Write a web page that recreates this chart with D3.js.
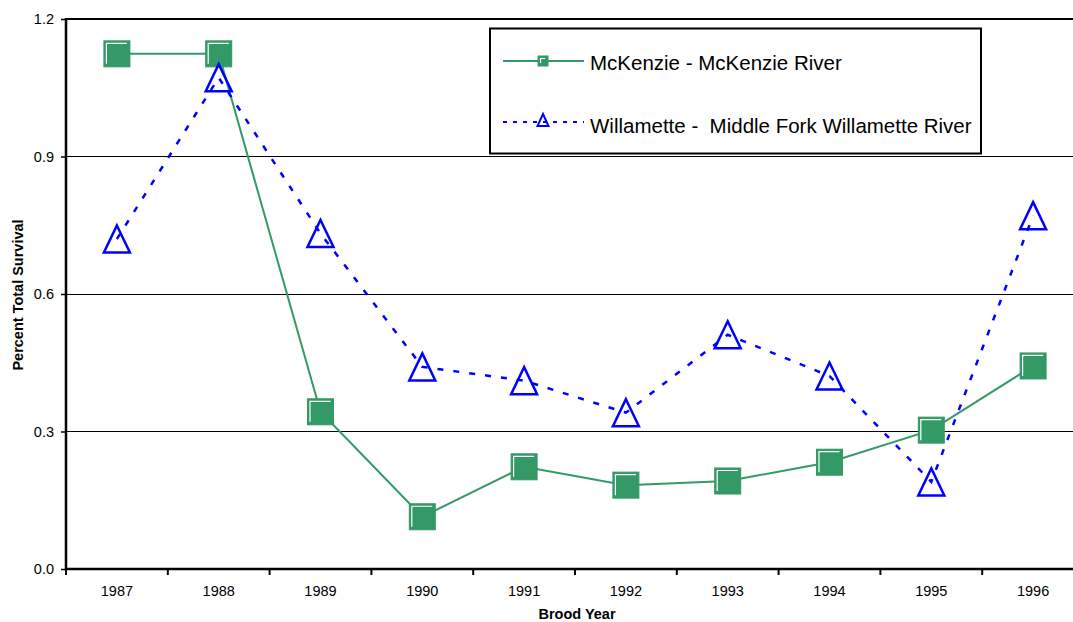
<!DOCTYPE html>
<html><head><meta charset="utf-8">
<script src="https://cdn.jsdelivr.net/npm/d3@7"></script>
<style>
html,body{margin:0;padding:0;background:#fff;}
text{font-family:Arial,"Liberation Sans",sans-serif;fill:#000;}
</style></head>
<body><svg id="c" width="1073" height="622"></svg>
<script>
const years = ["1987","1988","1989","1990","1991","1992","1993","1994","1995","1996"];
const mckenzie = [1.124,1.124,0.343,0.114,0.223,0.183,0.192,0.233,0.303,0.443];
const willamette = [0.720,1.072,0.732,0.441,0.411,0.341,0.511,0.421,0.190,0.771];
const yTicks = [0,0.3,0.6,0.9,1.2];
const seriesNames = ["McKenzie - McKenzie River","Willamette -  Middle Fork Willamette River"];

const svg = d3.select("#c");
const L=66, R=1084, T=19, B=569;
const x = d3.scaleBand().domain(years).range([L,R]);
const cx = d => x(d)+x.bandwidth()/2;
const y = d3.scaleLinear().domain([0,1.2]).range([B,T]);
const green="#339966", blue="#0000ff";

// gridlines
svg.append("g").selectAll("line").data(yTicks.filter(v=>v>0)).join("line")
  .attr("x1",L).attr("x2",1073).attr("y1",d=>y(d)).attr("y2",d=>y(d))
  .attr("stroke","#000").attr("stroke-width",d=>d===1.2?2:1).attr("shape-rendering","crispEdges");

// y axis
const ya = svg.append("g").attr("transform",`translate(${L},0)`)
  .call(d3.axisLeft(y).tickValues(yTicks).tickFormat(d3.format(".1f")).tickSize(5).tickPadding(7));
ya.select(".domain").attr("stroke-width",2.5).attr("d",`M0,${T-1}V${B}`);
ya.selectAll(".tick line").attr("stroke-width",1.5);
ya.selectAll(".tick text").attr("font-size","14.5px").attr("font-family","Arial, 'Liberation Sans', sans-serif").attr("fill","#333");

// x axis
svg.append("line").attr("x1",L-1).attr("x2",1073).attr("y1",B).attr("y2",B).attr("stroke","#000").attr("stroke-width",2.5);
const edges = years.map(d=>x(d));
svg.append("g").selectAll("line").data(edges).join("line")
  .attr("x1",d=>d).attr("x2",d=>d).attr("y1",B).attr("y2",B+6).attr("stroke","#000").attr("stroke-width",2);
svg.append("g").selectAll("text").data(years).join("text")
  .attr("x",d=>cx(d)).attr("y",596).attr("text-anchor","middle").attr("font-size","14.5px").attr("fill","#222").text(d=>d);

// axis titles
svg.append("text").attr("x",577).attr("y",619).attr("text-anchor","middle").attr("font-size","14.5px").attr("font-weight","bold").text("Brood Year");
svg.append("text").attr("transform","translate(23,295) rotate(-90)").attr("text-anchor","middle").attr("font-size","14.5px").attr("font-weight","bold").text("Percent Total Survival");

// series
const line = d3.line().x((d,i)=>cx(years[i])).y(d=>y(d));
svg.append("path").datum(mckenzie).attr("d",line).attr("fill","none").attr("stroke",green).attr("stroke-width",2);

function square(g, px, py, s){
  g.append("rect").attr("x",px-s/2).attr("y",py-s/2).attr("width",s).attr("height",s).attr("fill",green).attr("stroke",green).attr("stroke-width",1);
  const o=s/2-2.5;
  g.append("path").attr("d",`M${px-o},${py+s/2-3}V${py-o}H${px+s/2-3}`).attr("fill","none").attr("stroke","#fff").attr("stroke-width",1.2);
}
function tri(g, px, py, w, h, sw){
  g.append("path").attr("d",`M${px},${py-h/2}L${px+w/2},${py+h/2}L${px-w/2},${py+h/2}Z`).attr("fill","none").attr("stroke",blue).attr("stroke-width",sw).attr("stroke-linejoin","miter");
}
const gm = svg.append("g");
mckenzie.forEach((v,i)=>square(gm, cx(years[i]), y(v), 26));

svg.append("path").datum(willamette).attr("d",line).attr("fill","none").attr("stroke",blue).attr("stroke-width",2.5).attr("stroke-dasharray","6,10");
const gt = svg.append("g");
willamette.forEach((v,i)=>tri(gt, cx(years[i]), y(v), 26, 27, 2.5));

// legend
const lg = svg.append("g");
lg.append("rect").attr("x",490).attr("y",28.5).attr("width",491).attr("height",125).attr("fill","#fff").attr("stroke","#000").attr("stroke-width",2);
lg.append("line").attr("x1",503).attr("x2",584).attr("y1",61).attr("y2",61).attr("stroke",green).attr("stroke-width",2);
square(lg, 543, 61, 10);
lg.append("line").attr("x1",503).attr("x2",584).attr("y1",122).attr("y2",122).attr("stroke",blue).attr("stroke-width",2).attr("stroke-dasharray","4,6");
tri(lg, 543, 120, 11, 12, 2);
lg.selectAll("text.lab").data(seriesNames).join("text").attr("class","lab")
  .attr("x",590).attr("y",(d,i)=>i===0?70:133).attr("font-size","20.5px").attr("fill","#111")
  .style("white-space","pre").text(d=>d);
</script></body></html>
